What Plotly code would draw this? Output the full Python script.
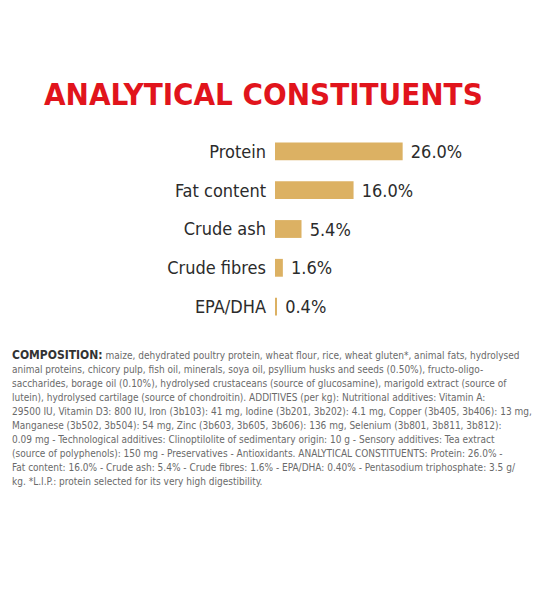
import plotly.graph_objects as go

categories = ["Protein", "Fat content", "Crude ash", "Crude fibres", "EPA/DHA"]
values = [26.0, 16.0, 5.4, 1.6, 0.4]
title_text = "ANALYTICAL CONSTITUENTS"
composition_lines = [
    "<b><span style='font-size:12px;color:#333333'>COMPOSITION:</span></b> maize, dehydrated poultry protein, wheat flour, rice, wheat gluten*, animal fats, hydrolysed",
    "animal proteins, chicory pulp, fish oil, minerals, soya oil, psyllium husks and seeds (0.50%), fructo-oligo-",
    "saccharides, borage oil (0.10%), hydrolysed crustaceans (source of glucosamine), marigold extract (source of",
    "lutein), hydrolysed cartilage (source of chondroitin). ADDITIVES (per kg): Nutritional additives: Vitamin A:",
    "29500 IU, Vitamin D3: 800 IU, Iron (3b103): 41 mg, Iodine (3b201, 3b202): 4.1 mg, Copper (3b405, 3b406): 13 mg,",
    "Manganese (3b502, 3b504): 54 mg, Zinc (3b603, 3b605, 3b606): 136 mg, Selenium (3b801, 3b811, 3b812):",
    "0.09 mg - Technological additives: Clinoptilolite of sedimentary origin: 10 g - Sensory additives: Tea extract",
    "(source of polyphenols): 150 mg - Preservatives - Antioxidants. ANALYTICAL CONSTITUENTS: Protein: 26.0% -",
    "Fat content: 16.0% - Crude ash: 5.4% - Crude fibres: 1.6% - EPA/DHA: 0.40% - Pentasodium triphosphate: 3.5 g/",
    "kg. *L.I.P.: protein selected for its very high digestibility.",
]

NARROW = "DejaVu Sans Condensed, Liberation Sans Narrow, sans-serif"

# page has an 8px body margin; figure sized to avoid scrollbars
OFF = 8
FW, FH = 530, 584
L, R = 267, 10
T, B = 123.5, 265.5
PW = FW - L - R
PH = FH - T - B
PX_PER_UNIT = 4.91


def px_x(page_px):
    return (page_px - OFF - L) / PW


def px_y(page_py):
    return (FH - B - (page_py - OFF)) / PH


fig = go.Figure()
fig.add_trace(go.Bar(
    x=values,
    y=categories,
    orientation="h",
    marker=dict(color="#dcb163", line=dict(width=0)),
    texttemplate=" %{x:.1f}%",
    textposition="outside",
    constraintext="none",
    cliponaxis=False,
    textfont=dict(family=NARROW, size=18, color="#2b2b2b"),
    hoverinfo="skip",
))

fig.update_layout(
    width=FW, height=FH,
    margin=dict(l=L, r=R, t=T, b=B, pad=0),
    paper_bgcolor="white", plot_bgcolor="white",
    showlegend=False,
    bargap=0.54,
    xaxis=dict(range=[0, PW / PX_PER_UNIT], visible=False, fixedrange=True),
    yaxis=dict(
        categoryorder="array", categoryarray=categories, autorange="reversed",
        showgrid=False, zeroline=False, showline=False, ticks="",
        ticklabelstandoff=8,
        tickfont=dict(family=NARROW, size=18, color="#2b2b2b"),
        fixedrange=True,
    ),
)

fig.add_annotation(
    text="<b>" + title_text + "</b>",
    xref="paper", yref="paper", x=px_x(263), y=px_y(93),
    xanchor="center", yanchor="middle", showarrow=False,
    font=dict(family=NARROW, size=31, color="#e1141c"),
)

for i, line in enumerate(composition_lines):
    fig.add_annotation(
        text=line,
        xref="paper", yref="paper", x=px_x(10), y=px_y(356 + i * 14.1),
        xanchor="left", yanchor="middle", align="left", showarrow=False,
        font=dict(family=NARROW, size=10, color="#6a6a6a"),
    )

fig.write_html("out.html")
